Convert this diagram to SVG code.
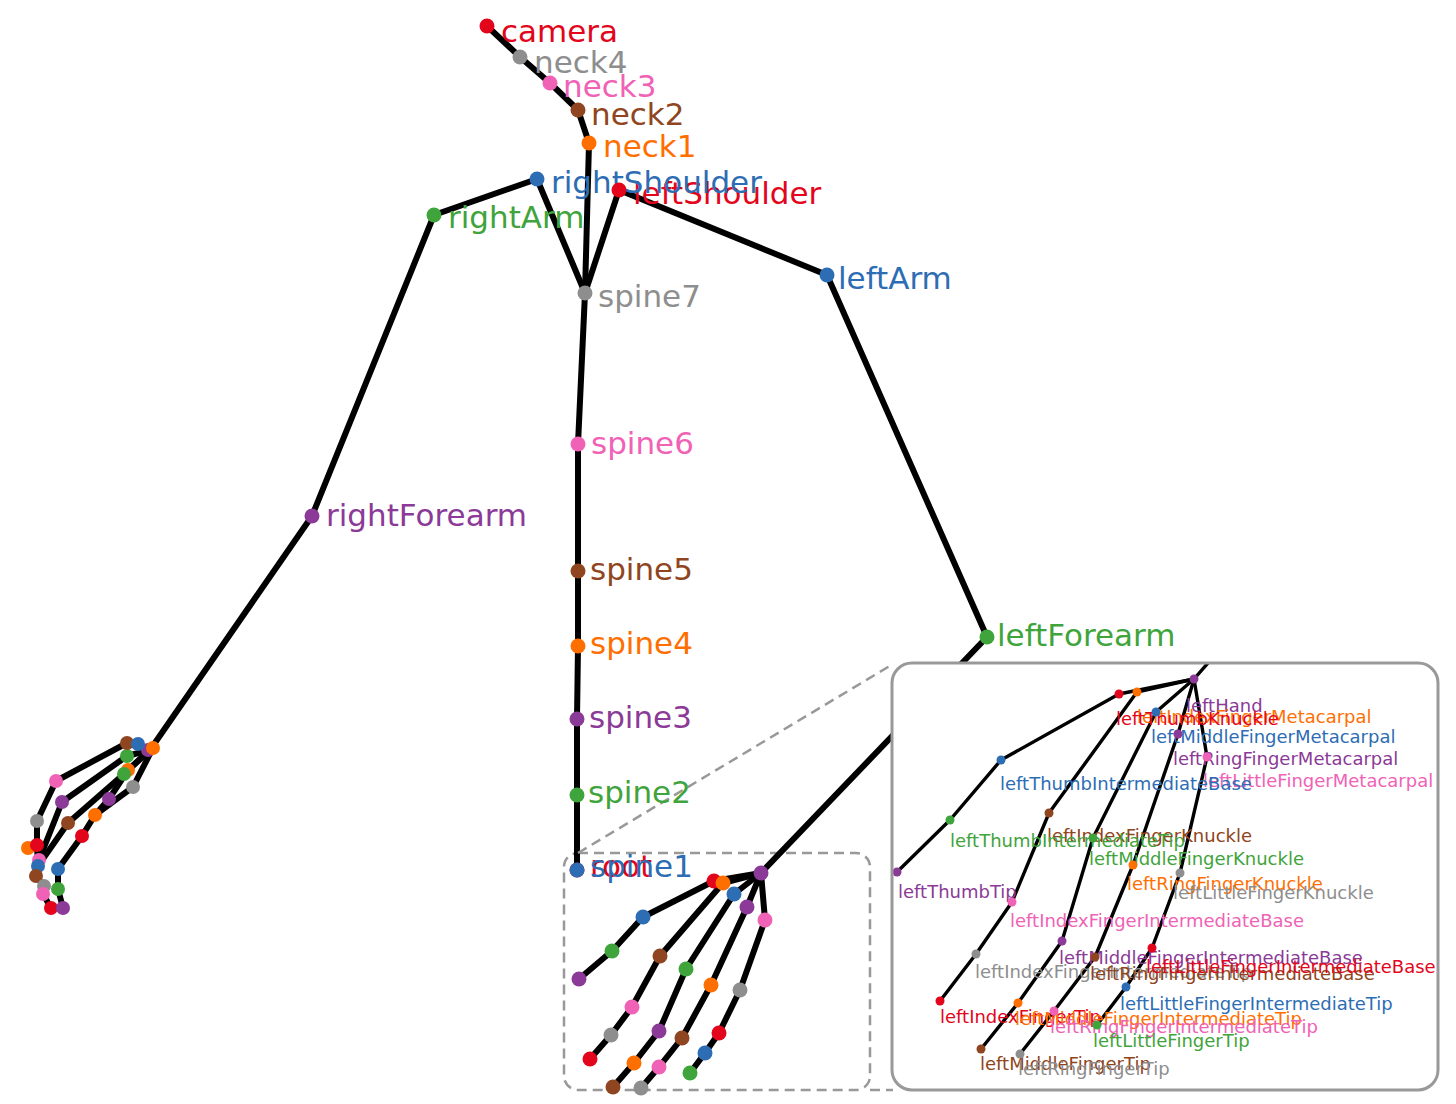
<svg xmlns="http://www.w3.org/2000/svg" width="1456" height="1104" viewBox="0 0 1456 1104">
<style>
text{font-family:"DejaVu Sans","Liberation Sans",sans-serif}
.m{font-size:31px}
.s{font-size:18px}
.ln{fill:none;stroke:#000;stroke-linejoin:round;stroke-linecap:round}
.b{stroke-width:6}
.h{stroke-width:6}
.i{stroke-width:3.4}
.red{fill:#e3051b}.blue{fill:#2d6db4}.green{fill:#3fa43b}.purple{fill:#8b3a97}
.orange{fill:#ff6f00}.brown{fill:#8f4520}.pink{fill:#f062b6}.gray{fill:#8e8e8e}
.dash{fill:none;stroke:#999;stroke-width:2.5;stroke-dasharray:10 6}
</style>
<defs>
<clipPath id="insetClip"><rect x="892" y="663" width="546" height="427" rx="20"/></clipPath>
</defs>
<rect width="1456" height="1104" fill="#fff"/>
<g id="zoom-box">
<rect class="dash" x="564" y="853" width="306" height="237" rx="14"/>
</g>
<g id="connectors">
<polyline class="ln b" points="487,26 520,57 550,83 578,110 589,143 585,293"/>
<polyline class="ln b" points="434,215 537,179 585,293 619,190 827,275 987,637 761,873"/>
<polyline class="ln b" points="585,293 578,444 578,571 578,646 577,719 577,795 577,870"/>
<polyline class="ln b" points="434,215 312,516 150,750"/>
<polyline class="ln h" points="150,750 127,743 56,781 37,821 37,845 38,866 36,876 44,886 43,894 51,908"/>
<polyline class="ln h" points="150,750 127,756 62,802 39,860"/>
<polyline class="ln h" points="150,750 124,774 68,823 38,866"/>
<polyline class="ln h" points="150,750 153,748 133,787 95,815 82,836 58,869 58,889 63,908"/>
<polyline class="ln h" points="150,750 128,770 109,799 95,815"/>
<polyline class="ln h" points="761,873 714,881 643,917 612,951 579,979"/>
<polyline class="ln h" points="761,873 723,883 660,956 632,1007 611,1035 590,1059"/>
<polyline class="ln h" points="761,873 734,894 686,969 659,1031 634,1063 613,1087"/>
<polyline class="ln h" points="761,873 747,907 711,985 682,1038 659,1067 641,1088"/>
<polyline class="ln h" points="761,873 765,920 740,990 719,1033 705,1053 690,1073"/>
<line class="dash" x1="578" y1="853" x2="893" y2="664"/>
<line class="dash" x1="870" y1="1090" x2="893" y2="1090"/>
</g>
<g id="right-hand">
<circle class="purple" cx="148" cy="750" r="7"/>
<circle class="green" cx="127" cy="756" r="7"/>
<circle class="brown" cx="127" cy="743" r="7"/>
<circle class="blue" cx="138" cy="744" r="7"/>
<circle class="orange" cx="153" cy="748" r="7"/>
<circle class="orange" cx="128" cy="770" r="7"/>
<circle class="green" cx="124" cy="774" r="7"/>
<circle class="gray" cx="133" cy="787" r="7"/>
<circle class="pink" cx="56" cy="781" r="7"/>
<circle class="purple" cx="62" cy="802" r="7"/>
<circle class="purple" cx="109" cy="799" r="7"/>
<circle class="orange" cx="95" cy="815" r="7"/>
<circle class="brown" cx="68" cy="823" r="7"/>
<circle class="red" cx="82" cy="836" r="7"/>
<circle class="gray" cx="37" cy="821" r="7"/>
<circle class="orange" cx="28" cy="848" r="7"/>
<circle class="red" cx="37" cy="845" r="7"/>
<circle class="pink" cx="39" cy="860" r="7"/>
<circle class="blue" cx="38" cy="866" r="7"/>
<circle class="blue" cx="58" cy="869" r="7"/>
<circle class="brown" cx="36" cy="876" r="7"/>
<circle class="gray" cx="44" cy="886" r="7"/>
<circle class="green" cx="58" cy="889" r="7"/>
<circle class="pink" cx="43" cy="894" r="7"/>
<circle class="red" cx="51" cy="908" r="7"/>
<circle class="purple" cx="63" cy="908" r="7"/>
</g>
<g id="left-hand-main">
<circle class="purple" cx="761" cy="873" r="7.5"/>
<circle class="red" cx="714" cy="881" r="7.5"/>
<circle class="orange" cx="723" cy="883" r="7.5"/>
<circle class="blue" cx="734" cy="894" r="7.5"/>
<circle class="purple" cx="747" cy="907" r="7.5"/>
<circle class="pink" cx="765" cy="920" r="7.5"/>
<circle class="blue" cx="643" cy="917" r="7.5"/>
<circle class="green" cx="612" cy="951" r="7.5"/>
<circle class="purple" cx="579" cy="979" r="7.5"/>
<circle class="brown" cx="660" cy="956" r="7.5"/>
<circle class="pink" cx="632" cy="1007" r="7.5"/>
<circle class="gray" cx="611" cy="1035" r="7.5"/>
<circle class="red" cx="590" cy="1059" r="7.5"/>
<circle class="green" cx="686" cy="969" r="7.5"/>
<circle class="purple" cx="659" cy="1031" r="7.5"/>
<circle class="orange" cx="634" cy="1063" r="7.5"/>
<circle class="brown" cx="613" cy="1087" r="7.5"/>
<circle class="orange" cx="711" cy="985" r="7.5"/>
<circle class="brown" cx="682" cy="1038" r="7.5"/>
<circle class="pink" cx="659" cy="1067" r="7.5"/>
<circle class="gray" cx="641" cy="1088" r="7.5"/>
<circle class="gray" cx="740" cy="990" r="7.5"/>
<circle class="red" cx="719" cy="1033" r="7.5"/>
<circle class="blue" cx="705" cy="1053" r="7.5"/>
<circle class="green" cx="690" cy="1073" r="7.5"/>
</g>
<g id="node-camera"><text class="m red" x="501" y="42">camera</text><circle class="red" cx="487" cy="26" r="7.5"/></g>
<g id="node-neck4"><text class="m gray" x="534" y="73">neck4</text><circle class="gray" cx="520" cy="57" r="7.5"/></g>
<g id="node-neck3"><text class="m pink" x="563" y="97">neck3</text><circle class="pink" cx="550" cy="83" r="7.5"/></g>
<g id="node-neck2"><text class="m brown" x="591" y="125">neck2</text><circle class="brown" cx="578" cy="110" r="7.5"/></g>
<g id="node-neck1"><text class="m orange" x="603" y="157">neck1</text><circle class="orange" cx="589" cy="143" r="7.5"/></g>
<g id="node-leftShoulder"><text class="m red" x="633" y="204">leftShoulder</text></g>
<g id="node-rightShoulder"><text class="m blue" x="551" y="193">rightShoulder</text><circle class="blue" cx="537" cy="179" r="7.5"/></g>
<circle class="red" cx="619" cy="190" r="7.5"/>
<g id="node-rightArm"><text class="m green" x="448" y="228">rightArm</text><circle class="green" cx="434" cy="215" r="7.5"/></g>
<g id="node-spine7"><text class="m gray" x="598" y="307">spine7</text><circle class="gray" cx="585" cy="293" r="7.5"/></g>
<g id="node-leftArm"><text class="m blue" x="838" y="289">leftArm</text><circle class="blue" cx="827" cy="275" r="7.5"/></g>
<g id="node-spine6"><text class="m pink" x="591" y="454">spine6</text><circle class="pink" cx="578" cy="444" r="7.5"/></g>
<g id="node-rightForearm"><text class="m purple" x="326" y="526">rightForearm</text><circle class="purple" cx="312" cy="516" r="7.5"/></g>
<g id="node-spine5"><text class="m brown" x="590" y="580">spine5</text><circle class="brown" cx="578" cy="571" r="7.5"/></g>
<g id="node-spine4"><text class="m orange" x="590" y="654">spine4</text><circle class="orange" cx="578" cy="646" r="7.5"/></g>
<g id="node-spine3"><text class="m purple" x="589" y="728">spine3</text><circle class="purple" cx="577" cy="719" r="7.5"/></g>
<g id="node-spine2"><text class="m green" x="588" y="803">spine2</text><circle class="green" cx="577" cy="795" r="7.5"/></g>
<g id="node-root"><text class="m red" x="590" y="877">root</text><circle class="red" cx="577" cy="870" r="7.5"/></g>
<g id="node-spine1"><text class="m blue" x="590" y="877">spine1</text><circle class="blue" cx="577" cy="870" r="7.5"/></g>
<g id="node-leftForearm"><text class="m green" x="997" y="646">leftForearm</text><circle class="green" cx="987" cy="637" r="7.5"/></g>
<g id="inset">
<rect x="892" y="663" width="546" height="427" rx="20" fill="#fff"/>
<g clip-path="url(#insetClip)">
<g id="inset-connectors">
<polyline class="ln i" points="1215,655 1194,679"/>
<polyline class="ln i" points="1194,679 1119,694 1001,760 950,820 897,872"/>
<polyline class="ln i" points="1194,679 1137,692 1049,813 1012,902 976,954 940,1001"/>
<polyline class="ln i" points="1194,679 1156,712 1093,838 1062,941 1018,1003 981,1049"/>
<polyline class="ln i" points="1194,679 1178,734 1133,865 1095,957 1054,1011 1020,1054"/>
<polyline class="ln i" points="1194,679 1207,757 1180,873 1152,948 1126,987 1097,1025"/>
</g>
<g id="inset-labels">
<text class="s purple" x="1186" y="712">leftHand</text>
<text class="s orange" x="1137" y="723">leftIndexFingerMetacarpal</text>
<text class="s red" x="1116" y="725">leftThumbKnuckle</text>
<text class="s blue" x="1151" y="743">leftMiddleFingerMetacarpal</text>
<text class="s purple" x="1173" y="765">leftRingFingerMetacarpal</text>
<text class="s pink" x="1203" y="787">leftLittleFingerMetacarpal</text>
<text class="s blue" x="1000" y="790">leftThumbIntermediateBase</text>
<text class="s brown" x="1047" y="842">leftIndexFingerKnuckle</text>
<text class="s green" x="950" y="847">leftThumbIntermediateTip</text>
<text class="s green" x="1089" y="865">leftMiddleFingerKnuckle</text>
<text class="s orange" x="1127" y="890">leftRingFingerKnuckle</text>
<text class="s gray" x="1173" y="899">leftLittleFingerKnuckle</text>
<text class="s purple" x="898" y="898">leftThumbTip</text>
<text class="s pink" x="1010" y="927">leftIndexFingerIntermediateBase</text>
<text class="s purple" x="1059" y="964">leftMiddleFingerIntermediateBase</text>
<text class="s gray" x="975" y="978">leftIndexFingerIntermediateTip</text>
<text class="s brown" x="1090" y="980">leftRingFingerIntermediateBase</text>
<text class="s red" x="1146" y="973">leftLittleFingerIntermediateBase</text>
<text class="s blue" x="1120" y="1010">leftLittleFingerIntermediateTip</text>
<text class="s red" x="940" y="1023">leftIndexFingerTip</text>
<text class="s orange" x="1015" y="1025">leftMiddleFingerIntermediateTip</text>
<text class="s pink" x="1050" y="1033">leftRingFingerIntermediateTip</text>
<text class="s green" x="1093" y="1047">leftLittleFingerTip</text>
<text class="s brown" x="980" y="1070">leftMiddleFingerTip</text>
<text class="s gray" x="1018" y="1075">leftRingFingerTip</text>
</g>
<g id="inset-nodes">
<circle class="purple" cx="1194" cy="679" r="4.5"/>
<circle class="red" cx="1119" cy="694" r="4.5"/>
<circle class="orange" cx="1137" cy="692" r="4.5"/>
<circle class="blue" cx="1156" cy="712" r="4.5"/>
<circle class="purple" cx="1178" cy="734" r="4.5"/>
<circle class="pink" cx="1207" cy="757" r="4.5"/>
<circle class="blue" cx="1001" cy="760" r="4.5"/>
<circle class="green" cx="950" cy="820" r="4.5"/>
<circle class="purple" cx="897" cy="872" r="4.5"/>
<circle class="brown" cx="1049" cy="813" r="4.5"/>
<circle class="pink" cx="1012" cy="902" r="4.5"/>
<circle class="gray" cx="976" cy="954" r="4.5"/>
<circle class="red" cx="940" cy="1001" r="4.5"/>
<circle class="green" cx="1093" cy="838" r="4.5"/>
<circle class="purple" cx="1062" cy="941" r="4.5"/>
<circle class="orange" cx="1018" cy="1003" r="4.5"/>
<circle class="brown" cx="981" cy="1049" r="4.5"/>
<circle class="orange" cx="1133" cy="865" r="4.5"/>
<circle class="brown" cx="1095" cy="957" r="4.5"/>
<circle class="pink" cx="1054" cy="1011" r="4.5"/>
<circle class="gray" cx="1020" cy="1054" r="4.5"/>
<circle class="gray" cx="1180" cy="873" r="4.5"/>
<circle class="red" cx="1152" cy="948" r="4.5"/>
<circle class="blue" cx="1126" cy="987" r="4.5"/>
<circle class="green" cx="1097" cy="1025" r="4.5"/>
</g>
</g>
<rect x="892" y="663" width="546" height="427" rx="20" fill="none" stroke="#999" stroke-width="3"/>
</g>
</svg>
